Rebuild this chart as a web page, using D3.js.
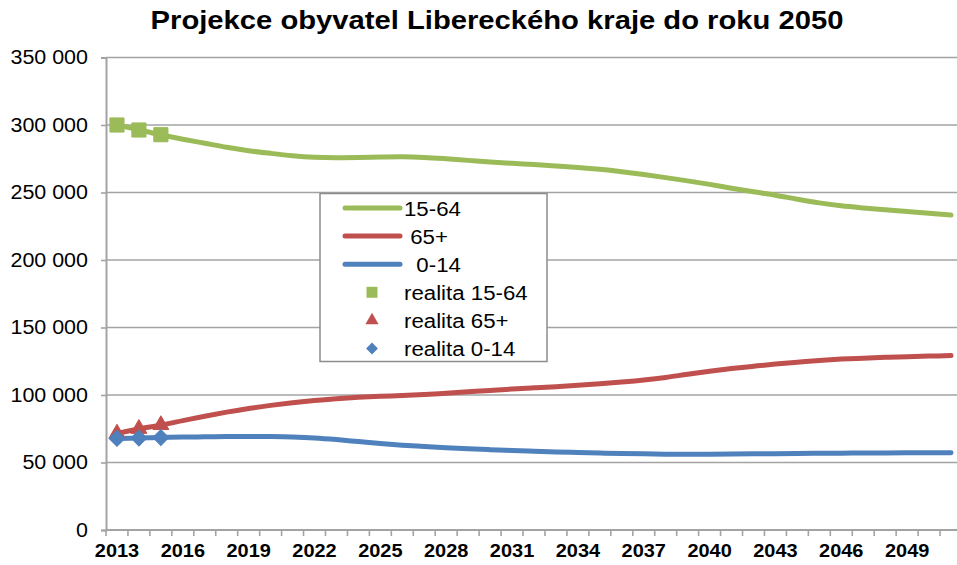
<!DOCTYPE html>
<html>
<head>
<meta charset="utf-8">
<script src="https://cdn.jsdelivr.net/npm/d3@7"></script>
<style>
  html, body { margin: 0; padding: 0; background: #fff; }
  svg { display: block; font-family: Arial, "Liberation Sans", sans-serif; }
  text { white-space: pre; }
</style>
</head>
<body>
<svg id="chart" width="957" height="565"></svg>
<script>
// ---------- data ----------
const years = d3.range(2013, 2052);
const pop15_64 = [300000, 296500, 292800, 289500, 286500, 283500, 281000, 279000, 277300, 276200,
  275800, 275900, 276300, 276500, 276000, 275000, 273800, 272600, 271600, 270700,
  269700, 268600, 267200, 265400, 263300, 261000, 258600, 256000, 253200, 250500,
  248000, 245000, 242300, 240200, 238600, 237200, 236000, 234600, 233300];
const pop65 = [71500, 74800, 77700, 81000, 84300, 87300, 90000, 92300, 94300, 96000,
  97300, 98300, 99000, 99600, 100300, 101300, 102400, 103400, 104400, 105300,
  106200, 107200, 108300, 109600, 111100, 113000, 115400, 117600, 119600, 121300,
  122900, 124300, 125600, 126600, 127300, 127900, 128400, 128800, 129200];
const pop0_14 = [67800, 68100, 68500, 68800, 69000, 69200, 69300, 69200, 68900, 68200,
  67000, 65500, 64000, 62800, 61900, 61000, 60200, 59500, 58900, 58300,
  57800, 57400, 57000, 56700, 56400, 56200, 56100, 56200, 56300, 56400,
  56500, 56700, 56800, 56900, 57000, 57100, 57200, 57200, 57300];
const realYears = [2013, 2014, 2015];
const real15_64 = [300000, 296300, 292800];
const real65 = [71500, 75000, 77800];
const real0_14 = [67800, 68100, 68500];
const yTicks = [0, 50000, 100000, 150000, 200000, 250000, 300000, 350000];
const xLabelYears = years.filter((yr, i) => i % 3 === 0);
const title = "Projekce obyvatel Libereckého kraje do roku 2050";
const legendLabels = ["15-64", " 65+", "  0-14", "realita 15-64", "realita 65+", "realita 0-14"];

// ---------- setup ----------
const colors = { green: "#9BBB59", red: "#C0504D", blue: "#4F81BD" };
const svg = d3.select("#chart");
const mLeft = 106, mRight = 962, mTop = 57.5, mBottom = 530;

const x = d3.scaleBand().domain(years).range([mLeft, mRight]).padding(0);
const xc = yr => x(yr) + x.bandwidth() / 2;
const y = d3.scaleLinear().domain([0, 350000]).range([mBottom, mTop]);

const locale = d3.formatLocale({ decimal: ",", thousands: " ", grouping: [3], currency: ["", ""] });
const fmt = locale.format(",d");

// title (horizontally stretched like the original)
svg.append("g").attr("transform", "translate(497,28.5) scale(1.145,1)")
  .append("text").attr("x", 0).attr("y", 0).attr("text-anchor", "middle")
  .attr("font-size", 25.5).attr("font-weight", "bold").attr("fill", "#000").text(title);

// gridlines
svg.append("g").selectAll("line").data(yTicks.filter(d => d > 0)).join("line")
  .attr("x1", mLeft).attr("x2", mRight)
  .attr("y1", d => y(d)).attr("y2", d => y(d))
  .attr("stroke", "#A3A3A3").attr("stroke-width", 1.6);

// y axis
const yAxis = svg.append("g").attr("transform", `translate(${mLeft},0)`)
  .call(d3.axisLeft(y).tickValues(yTicks).tickFormat(fmt).tickSize(5).tickPadding(11.4));
yAxis.select(".domain").attr("stroke", "#A3A3A3").attr("stroke-width", 2);
yAxis.selectAll(".tick line").attr("stroke", "#A3A3A3").attr("stroke-width", 1.6);
yAxis.selectAll(".tick text").attr("font-size", 19.5).attr("fill", "#000")
  .attr("font-family", "Arial, 'Liberation Sans', sans-serif")
  .attr("transform", "scale(1.1,1)");

// x axis
const xAxis = svg.append("g").attr("transform", `translate(0,${mBottom})`)
  .call(d3.axisBottom(x).tickValues(xLabelYears).tickSize(0).tickPadding(14));
xAxis.select(".domain").remove();
xAxis.selectAll(".tick text").attr("font-size", 19).attr("font-weight", "bold").attr("fill", "#000")
  .attr("font-family", "Arial, 'Liberation Sans', sans-serif")
  .attr("transform", "scale(1.05,1)");
svg.append("line").attr("x1", mLeft).attr("x2", mRight).attr("y1", mBottom).attr("y2", mBottom)
  .attr("stroke", "#A3A3A3").attr("stroke-width", 2);
svg.append("g").selectAll("line").data(years).join("line")
  .attr("x1", d => x(d)).attr("x2", d => x(d))
  .attr("y1", mBottom).attr("y2", mBottom + 6)
  .attr("stroke", "#A3A3A3").attr("stroke-width", 1.6);

// lines
const line = d3.line().x((d, i) => xc(years[i])).y(d => y(d)).curve(d3.curveCatmullRom.alpha(0.5));
[[pop0_14, colors.blue], [pop65, colors.red], [pop15_64, colors.green]].forEach(([data, c]) => {
  svg.append("path").datum(data).attr("d", line)
    .attr("fill", "none").attr("stroke", c).attr("stroke-width", 5)
    .attr("stroke-linecap", "round").attr("stroke-linejoin", "round");
});

// markers
const sq = d3.symbol().type(d3.symbolSquare);
const tri = d3.symbol().type(d3.symbolTriangle);
svg.append("g").selectAll("path").data(real15_64).join("path")
  .attr("d", sq.size(200)())
  .attr("transform", (d, i) => `translate(${xc(realYears[i])},${y(d)})`)
  .attr("fill", colors.green).attr("stroke", colors.green).attr("stroke-width", 1).attr("stroke-linejoin", "round");
svg.append("g").selectAll("path").data(real65).join("path")
  .attr("d", tri.size(110)())
  .attr("transform", (d, i) => `translate(${xc(realYears[i])},${y(d)})`)
  .attr("fill", colors.red).attr("stroke", colors.red).attr("stroke-width", 1);
svg.append("g").selectAll("path").data(real0_14).join("path")
  .attr("d", sq.size(125)())
  .attr("transform", (d, i) => `translate(${xc(realYears[i])},${y(d)}) rotate(45)`)
  .attr("fill", colors.blue).attr("stroke", colors.blue).attr("stroke-width", 1);

// legend
const lg = svg.append("g");
lg.append("rect").attr("x", 320).attr("y", 193.5).attr("width", 227).attr("height", 168)
  .attr("fill", "#fff").attr("stroke", "#8C8C8C").attr("stroke-width", 1.5);
const rowY = i => 208 + i * 28.1;
const lineColors = [colors.green, colors.red, colors.blue];
lineColors.forEach((c, i) => {
  lg.append("line").attr("x1", 345).attr("x2", 400).attr("y1", rowY(i)).attr("y2", rowY(i))
    .attr("stroke", c).attr("stroke-width", 5).attr("stroke-linecap", "round");
});
lg.append("path").attr("d", sq.size(120)()).attr("transform", `translate(372,${rowY(3)})`).attr("fill", colors.green);
lg.append("path").attr("d", tri.size(75)()).attr("transform", `translate(372,${rowY(4)})`).attr("fill", colors.red);
lg.append("path").attr("d", sq.size(70)()).attr("transform", `translate(372,${rowY(5)}) rotate(45)`).attr("fill", colors.blue);
legendLabels.forEach((t, i) => {
  lg.append("g").attr("transform", `translate(404,${rowY(i) + 7.5}) scale(1.06,1)`)
    .append("text").attr("x", 0).attr("y", 0)
    .attr("font-size", 21).attr("fill", "#000").text(t);
});
</script>
</body>
</html>
